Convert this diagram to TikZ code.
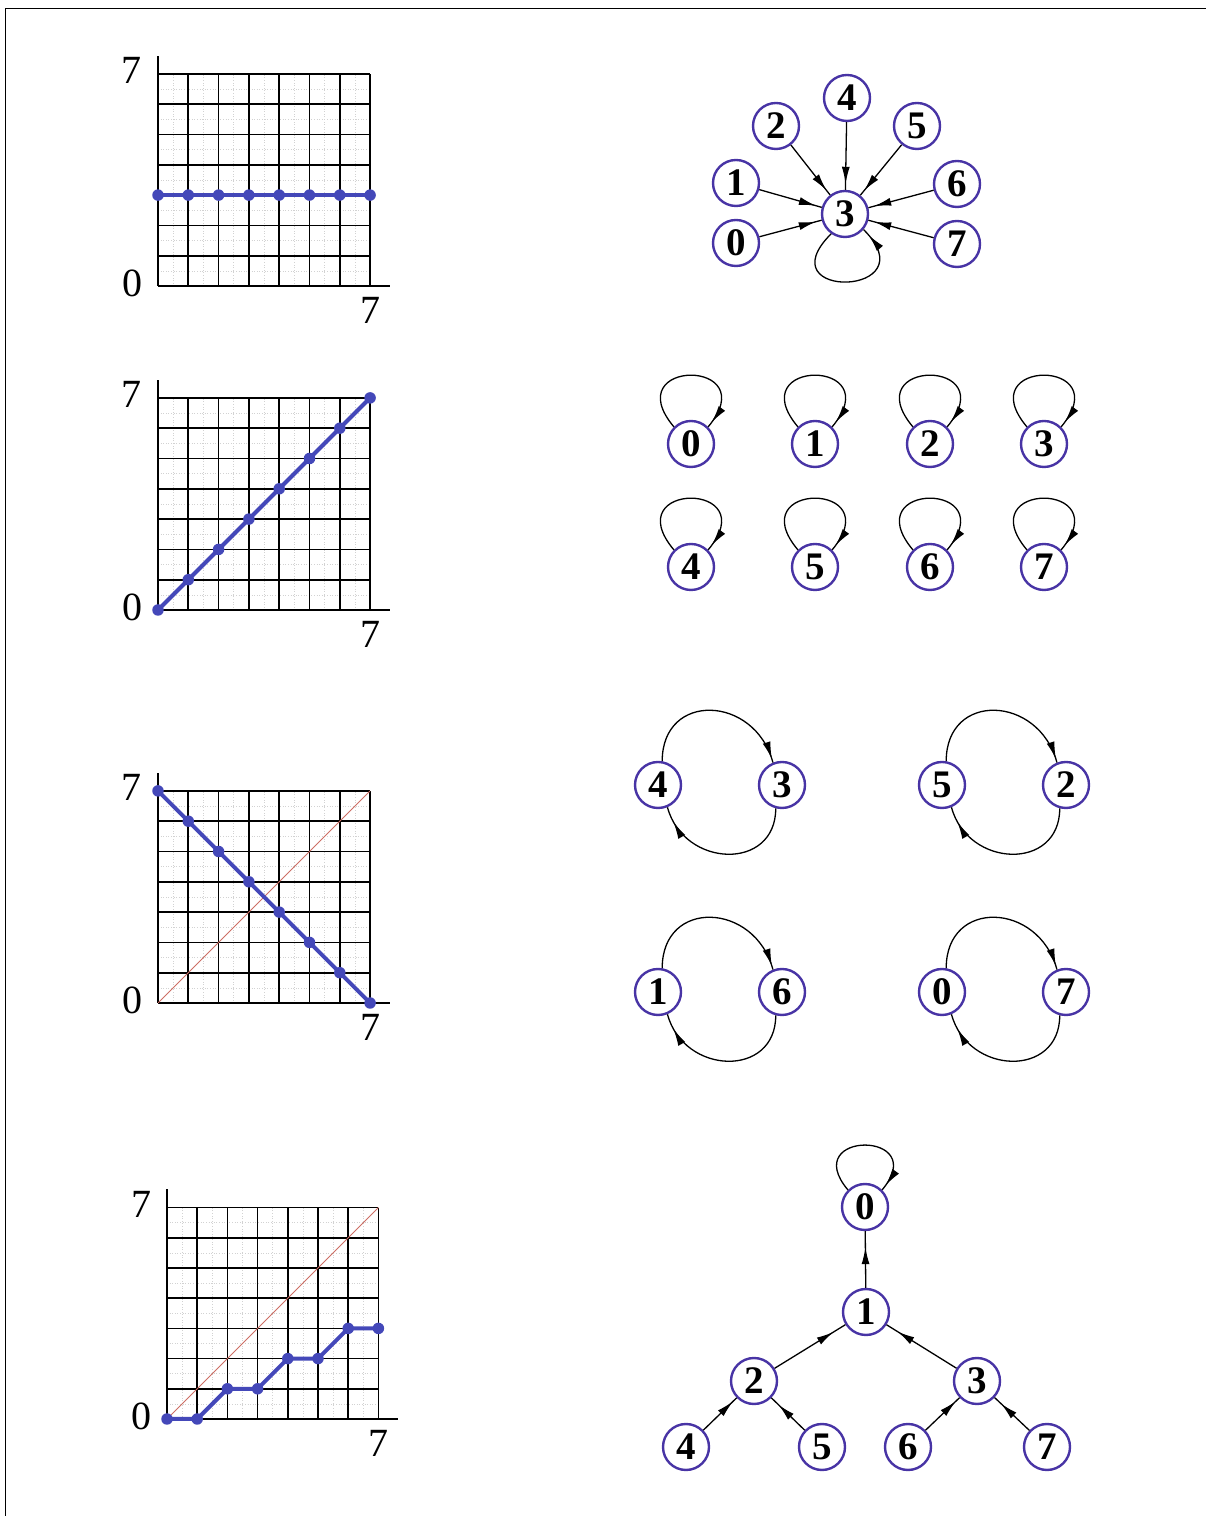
\documentclass[tikz,border=0pt]{standalone}
\usepackage{fontspec}
\setmainfont{Liberation Serif}
\usetikzlibrary{arrows.meta,decorations.markings}
\definecolor{nodeblue}{RGB}{72,52,165}
\definecolor{curveblue}{RGB}{68,72,185}
\definecolor{diagred}{RGB}{205,110,100}
\tikzset{
  vtx/.style={circle, draw=nodeblue, line width=2.4pt, minimum size=46pt, inner sep=0pt,
              font=\fontsize{39}{39}\selectfont\bfseries},
  edge/.style={draw=black, line width=1.3pt},
  arr/.style={decoration={markings, mark=at position #1 with {\arrow{Latex[length=17pt,width=8pt]}}},
              postaction={decorate}},
  axlabel/.style={font=\fontsize{40}{40}\selectfont, inner sep=0pt},
  dot/.style={circle, fill=curveblue, inner sep=0pt, minimum size=11.5pt},
  curve/.style={draw=curveblue, line width=4pt},
  diag/.style={draw=diagred, line width=1pt},
  gridline/.style={draw=black, line width=1.7pt},
  subline/.style={draw=gray!35, dotted, line width=0.6pt},
}
\newcommand\mygrid[1]{%
  \foreach \k in {0.5,1.5,...,6.5} {\draw[subline] (\k,0) -- (\k,7); \draw[subline] (0,\k) -- (7,\k);}
  \foreach \k in {1,...,7} {\draw[gridline] (\k,0) -- (\k,7); \draw[gridline] (0,\k) -- (7,\k);}
  \draw[black, line width=2.8pt] (0,0) -- (0,7.6);
  \draw[black, line width=2.8pt] (0,0) -- (7.65,0);
  \node[axlabel] (#1t) at (-0.86,7.1) {7};
  \node[axlabel] (#1z) at (-0.83,0.1) {0};
  \node[axlabel] (#1r) at (7,-0.8) {7};
}
\begin{document}
\begin{tikzpicture}[x=1pt,y=1pt]
\useasboundingbox (0,0) rectangle (1206,1516);
\draw[line width=1.6pt] (5.5,0) -- (5.5,1507.5) -- (1206,1507.5);

% ---- grid 1 ----
\begin{scope}[shift={(158,1230)}, x=30.3pt, y=30.3pt]
  \mygrid{ga}
  \draw[curve] (0,3) -- (7,3);
  \foreach \i in {0,...,7} \node[dot] (gad\i) at (\i,3) {};
\end{scope}

% ---- grid 2 ----
\begin{scope}[shift={(158,906)}, x=30.3pt, y=30.3pt]
  \mygrid{gb}
  \draw[curve] (0,0) -- (7,7);
  \foreach \i in {0,...,7} \node[dot] (gbd\i) at (\i,\i) {};
\end{scope}

% ---- grid 3 ----
\begin{scope}[shift={(158,513)}, x=30.3pt, y=30.3pt]
  \mygrid{gc}
  \draw[diag] (0,0) -- (7,7);
  \draw[curve] (0,7) -- (7,0);
  \foreach \i in {0,...,7} {\pgfmathtruncatemacro\yy{7-\i}\node[dot] (gcd\i) at (\i,\yy) {};}
\end{scope}

% ---- grid 4 ----
\begin{scope}[shift={(167,97)}, x=30.2pt, y=30.2pt]
  \mygrid{gd}
  \draw[diag] (0,0) -- (7,7);
  \draw[curve] (0,0) -- (1,0) -- (2,1) -- (3,1) -- (4,2) -- (5,2) -- (6,3) -- (7,3);
  \foreach \i in {0,...,7} {\pgfmathtruncatemacro\yy{floor(\i/2)}\node[dot] (gdd\i) at (\i,\yy) {};}
\end{scope}

% ---- graph 1 ----
\node[vtx] (a3) at (845,1302) {3};
\node[vtx] (a4) at (847,1418) {4};
\node[vtx] (a2) at (776,1390) {2};
\node[vtx] (a5) at (917,1390) {5};
\node[vtx] (a1) at (736,1333) {1};
\node[vtx] (a6) at (957,1332) {6};
\node[vtx] (a0) at (736,1273) {0};
\node[vtx] (a7) at (957,1272) {7};
\foreach \n in {a0,a1,a2,a4,a5,a6,a7} \draw[edge, arr=-6pt] (\n) -- (a3);
\draw[edge, arr=-8pt] (a3.235) .. controls +(225:95) and +(-45:95) .. (a3.-40);

% ---- graph 2 ----
\foreach \i/\x/\y in {0/691/1072, 1/815/1072, 2/930/1072, 3/1044/1072,
                      4/691/949, 5/815/949, 6/930/949, 7/1044/949} {
  \node[vtx] (b\i) at (\x,\y) {\i};
  \draw[edge, arr=-6pt] (b\i.135) .. controls +(130:90) and +(50:90) .. (b\i.45);
}

% ---- graph 3 ----
\node[vtx] (c4) at (658,731) {4};
\node[vtx] (c3) at (782,731) {3};
\node[vtx] (c5) at (942,731) {5};
\node[vtx] (c2) at (1066,731) {2};
\node[vtx] (c1) at (658,524) {1};
\node[vtx] (c6) at (782,524) {6};
\node[vtx] (c0) at (942,524) {0};
\node[vtx] (c7) at (1066,524) {7};
\foreach \l/\r in {c4/c3, c5/c2, c1/c6, c0/c7} {
  \draw[edge, arr=-4pt] (\l.80) .. controls +(90:70) and +(105:70) .. (\r.112);
  \draw[edge, arr=-16pt] (\r.-105) .. controls +(-90:63) and +(-75:63) .. (\l.-67);
}

% ---- graph 4 (tree) ----
\node[vtx] (d0) at (865,309) {0};
\node[vtx] (d1) at (866,204) {1};
\node[vtx] (d2) at (754,135) {2};
\node[vtx] (d3) at (977,135) {3};
\node[vtx] (d4) at (686,69) {4};
\node[vtx] (d5) at (822,69) {5};
\node[vtx] (d6) at (908,69) {6};
\node[vtx] (d7) at (1047,69) {7};
\draw[edge, arr=-16pt] (d1) -- (d0);
\draw[edge, arr=-14pt] (d2) -- (d1);
\draw[edge, arr=-13pt] (d3) -- (d1);
\draw[edge, arr=-5pt] (d4) -- (d2);
\draw[edge, arr=-10pt] (d5) -- (d2);
\draw[edge, arr=-5pt] (d6) -- (d3);
\draw[edge, arr=-9pt] (d7) -- (d3);
\draw[edge, arr=-6pt] (d0.135) .. controls +(130:78) and +(50:78) .. (d0.45);
\end{tikzpicture}
\end{document}
